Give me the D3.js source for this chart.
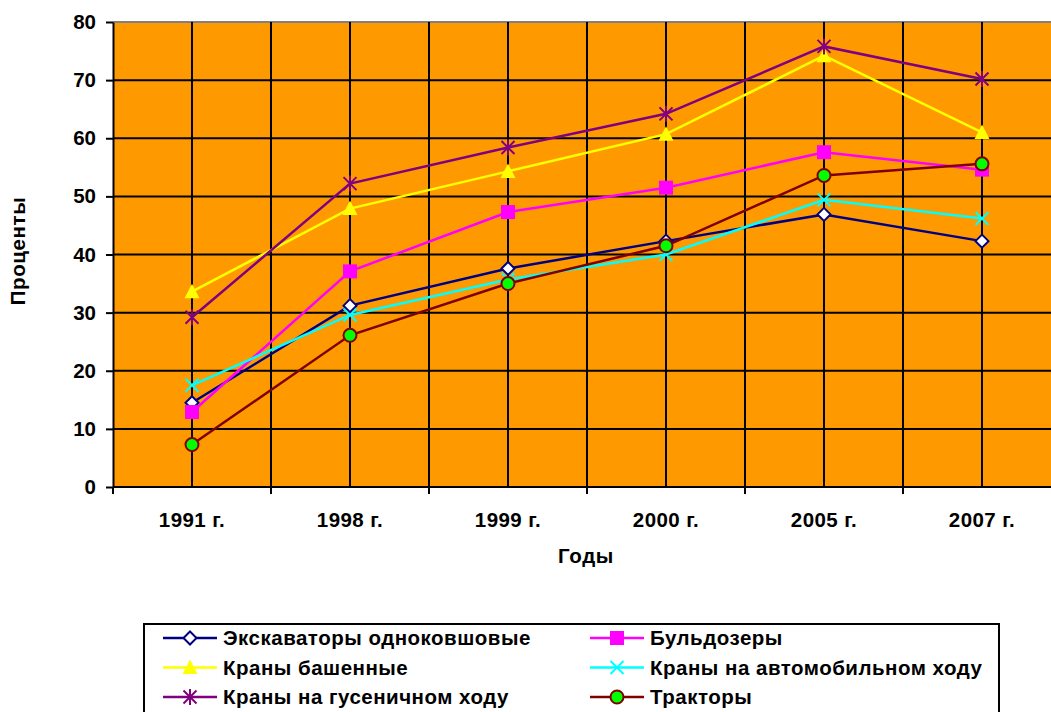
<!DOCTYPE html>
<html>
<head>
<meta charset="utf-8">
<script src="https://cdn.jsdelivr.net/npm/d3@7"></script>
<style>
  body { margin: 0; background: #fff; }
  svg { display: block; font-family: Arial, "Liberation Sans", sans-serif; font-weight: bold; }
</style>
</head>
<body>
<div id="chart"></div>
<script>
const years = ['1991 г.', '1998 г.', '1999 г.', '2000 г.', '2005 г.', '2007 г.'];
const yTicks = [0, 10, 20, 30, 40, 50, 60, 70, 80];

const excavators = [14.5, 31.2, 37.6, 42.3, 46.9, 42.3];
const bulldozers = [12.9, 37.1, 47.3, 51.5, 57.6, 54.6];
const towerCranes = [33.6, 47.9, 54.3, 60.7, 74.2, 61.0];
const truckCranes = [17.5, 29.6, 35.7, 40.0, 49.4, 46.2];
const crawlerCranes = [29.2, 52.2, 58.4, 64.2, 75.8, 70.2];
const tractors = [7.3, 26.1, 35.0, 41.5, 53.6, 55.6];

const seriesNames = ['Экскаваторы одноковшовые', 'Бульдозеры', 'Краны башенные',
  'Краны на автомобильном ходу', 'Краны на гусеничном ходу', 'Тракторы'];

const series = [
  { name: seriesNames[0], values: excavators, color: '#000080', marker: 'diamond' },
  { name: seriesNames[1], values: bulldozers, color: '#FF00FF', marker: 'square' },
  { name: seriesNames[2], values: towerCranes, color: '#FFFF00', marker: 'triangle' },
  { name: seriesNames[3], values: truckCranes, color: '#00FFFF', marker: 'x' },
  { name: seriesNames[4], values: crawlerCranes, color: '#800080', marker: 'star' },
  { name: seriesNames[5], values: tractors, color: '#800000', marker: 'circle' },
];

const width = 1051, height = 712;
const fontSize = '20.5px';
const svg = d3.select('#chart').append('svg').attr('width', width).attr('height', height);

const plotLeft = 113, plotTop = 22, plotBottom = 487;
const band = 158;

const x = d3.scaleBand().domain(years).range([plotLeft, plotLeft + band * years.length]);
const y = d3.scaleLinear().domain([0, 80]).range([plotBottom, plotTop]);

// plot area
svg.append('rect')
  .attr('x', plotLeft).attr('y', plotTop)
  .attr('width', band * years.length).attr('height', plotBottom - plotTop)
  .style('fill', '#FF9900');

// top border
svg.append('line')
  .attr('x1', plotLeft).attr('x2', width).attr('y1', plotTop).attr('y2', plotTop)
  .style('stroke', '#808080').style('stroke-width', 2);

// horizontal gridlines
svg.append('g').selectAll('line')
  .data(yTicks.filter(d => d > 0 && d < 80))
  .join('line')
  .attr('x1', plotLeft).attr('x2', width)
  .attr('y1', d => y(d)).attr('y2', d => y(d))
  .style('stroke', '#000').style('stroke-width', 2);

// vertical gridlines: centers and boundaries
const vLines = [];
years.forEach((yr, i) => {
  if (i > 0) vLines.push(x(yr));
  vLines.push(x(yr) + x.bandwidth() / 2);
});
svg.append('g').selectAll('line')
  .data(vLines)
  .join('line')
  .attr('x1', d => d).attr('x2', d => d)
  .attr('y1', plotTop).attr('y2', plotBottom)
  .style('stroke', '#000').style('stroke-width', 2);

// y axis
const yAxis = svg.append('g')
  .attr('transform', `translate(${plotLeft},0)`)
  .call(d3.axisLeft(y).tickValues(yTicks).tickSize(7).tickPadding(10).tickSizeOuter(0));
yAxis.select('.domain').style('stroke', '#000').style('stroke-width', 2);
yAxis.selectAll('.tick line').style('stroke', '#000').style('stroke-width', 2);
yAxis.selectAll('.tick text').style('font-size', fontSize).style('font-weight', 'bold')
  .style('font-family', 'Arial, "Liberation Sans", sans-serif').attr('fill', '#000');

// x axis
const xAxis = svg.append('g')
  .attr('transform', `translate(0,${plotBottom})`)
  .call(d3.axisBottom(x).tickSize(0).tickPadding(25));
xAxis.select('.domain').remove();
xAxis.selectAll('.tick text').style('font-size', fontSize).style('font-weight', 'bold')
  .style('letter-spacing', '0.4px')
  .style('font-family', 'Arial, "Liberation Sans", sans-serif').attr('fill', '#000');
svg.append('line')
  .attr('x1', plotLeft).attr('x2', width).attr('y1', plotBottom).attr('y2', plotBottom)
  .style('stroke', '#000').style('stroke-width', 2);
svg.append('g').selectAll('line')
  .data(years)
  .join('line')
  .attr('x1', d => x(d)).attr('x2', d => x(d))
  .attr('y1', plotBottom).attr('y2', plotBottom + 7)
  .style('stroke', '#000').style('stroke-width', 2);

// axis titles
svg.append('text')
  .attr('x', 586).attr('y', 563)
  .style('text-anchor', 'middle').style('font-size', fontSize)
  .style('letter-spacing', '0.6px')
  .text('Годы');
svg.append('text')
  .attr('transform', 'translate(25,251) rotate(-90)')
  .style('text-anchor', 'middle').style('font-size', fontSize)
  .style('letter-spacing', '0.6px')
  .text('Проценты');

function drawMarker(g, type, color, cx, cy) {
  if (type === 'diamond') {
    g.append('path')
      .attr('d', `M${cx},${cy - 6.5}L${cx + 6.5},${cy}L${cx},${cy + 6.5}L${cx - 6.5},${cy}Z`)
      .style('fill', '#fff').style('stroke', color).style('stroke-width', 2);
  } else if (type === 'square') {
    g.append('rect')
      .attr('x', cx - 7).attr('y', cy - 7).attr('width', 14).attr('height', 14)
      .style('fill', color);
  } else if (type === 'triangle') {
    g.append('path')
      .attr('d', `M${cx},${cy - 8}L${cx + 7.5},${cy + 6.5}L${cx - 7.5},${cy + 6.5}Z`)
      .style('fill', color);
  } else if (type === 'x') {
    g.append('path')
      .attr('d', `M${cx - 6.5},${cy - 6.5}L${cx + 6.5},${cy + 6.5}M${cx - 6.5},${cy + 6.5}L${cx + 6.5},${cy - 6.5}`)
      .style('stroke', color).style('stroke-width', 2);
  } else if (type === 'star') {
    g.append('path')
      .attr('d', `M${cx - 6.5},${cy - 6.5}L${cx + 6.5},${cy + 6.5}M${cx - 6.5},${cy + 6.5}L${cx + 6.5},${cy - 6.5}M${cx},${cy - 8}L${cx},${cy + 8}`)
      .style('stroke', color).style('stroke-width', 2);
  } else if (type === 'circle') {
    g.append('circle')
      .attr('cx', cx).attr('cy', cy).attr('r', 6.5)
      .style('fill', '#00FF00').style('stroke', color).style('stroke-width', 2);
  }
}

const line = d3.line()
  .x((d, i) => x(years[i]) + x.bandwidth() / 2)
  .y(d => y(d));

// series in legend order, later ones on top
series.forEach(s => {
  const g = svg.append('g');
  g.append('path')
    .datum(s.values)
    .attr('d', line)
    .style('fill', 'none').style('stroke', s.color).style('stroke-width', 2.5);
  s.values.forEach((v, i) => {
    drawMarker(g, s.marker, s.color, x(years[i]) + x.bandwidth() / 2, y(v));
  });
});

// legend
const legend = svg.append('g');
legend.append('rect')
  .attr('x', 144).attr('y', 624).attr('width', 855).attr('height', 100)
  .style('fill', '#fff').style('stroke', '#000').style('stroke-width', 2);

series.forEach((s, i) => {
  const col = i % 2, row = Math.floor(i / 2);
  const lx = col === 0 ? 163 : 590;
  const ly = 638 + row * 29.5;
  legend.append('line')
    .attr('x1', lx).attr('x2', lx + 54).attr('y1', ly).attr('y2', ly)
    .style('stroke', s.color).style('stroke-width', 2.5);
  drawMarker(legend, s.marker, s.color, lx + 27, ly);
  legend.append('text')
    .attr('x', lx + 60).attr('y', ly)
    .attr('dy', '0.35em')
    .style('font-size', fontSize)
    .style('letter-spacing', '0.5px')
    .text(s.name);
});
</script>
</body>
</html>
